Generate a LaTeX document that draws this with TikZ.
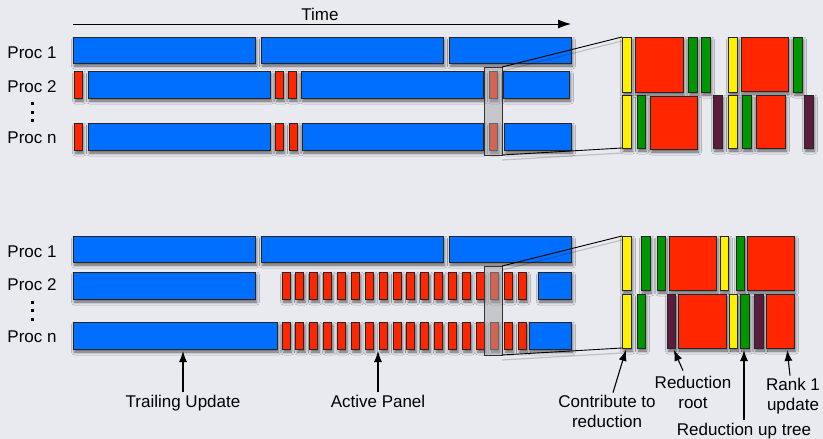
\documentclass[tikz,border=0pt]{standalone}
\usepackage{fontspec}
\setmainfont{Liberation Sans}
\usetikzlibrary{arrows.meta,shadows.blur}
\definecolor{bgc}{RGB}{233,234,240}
\definecolor{cblue}{RGB}{0,110,255}
\definecolor{cred}{RGB}{255,38,0}
\definecolor{cyel}{RGB}{255,240,0}
\definecolor{cgrn}{RGB}{0,150,0}
\definecolor{cpur}{RGB}{92,28,62}
\definecolor{cbox}{RGB}{165,165,168}
\newcommand{\blk}[6]{\node[#2, minimum width={(#5-#3)*1pt}, minimum height={(#6-#4)*1pt}, anchor=north west] (#1) at (#3,#4) {};}
\begin{document}
\begin{tikzpicture}[x=1pt,y=-1pt,font=\fontsize{17}{20}\selectfont,
  bx/.style={draw=black!85, line width=0.9pt, inner sep=0pt, outer sep=0pt,
    blur shadow={shadow xshift=1.5pt, shadow yshift=-3pt, shadow blur radius=3pt, shadow opacity=60}},
  bl/.style={bx, fill=cblue},
  rd/.style={bx, fill=cred},
  yl/.style={bx, fill=cyel},
  gr/.style={bx, fill=cgrn},
  pu/.style={bx, fill=cpur},
  zoombox/.style={draw=black!80, line width=0.9pt, fill=cbox, fill opacity=0.5, inner sep=0pt, outer sep=0pt},
  lbl/.style={inner sep=2pt, text height=12.5pt, text depth=3.5pt, align=center},
  lbltwo/.style={inner sep=2pt, align=center, anchor=north},
  arr/.style={-{Latex[length=11pt,width=8pt]}, line width=1.1pt},
  link/.style={line width=0.9pt, draw=black},
  linkshadow/.style={line width=1.2pt, draw=black, opacity=0.18},
  dot/.style={fill=black, inner sep=0pt, minimum size=3pt}]
\useasboundingbox[fill=bgc] (0,0) rectangle (823,439);

% ---------- Time axis ----------
\node[lbl] (time) at (320,15.5) {Time};
\coordinate (t0) at (73,24);
\coordinate (t1) at (571,24);
\draw[-{Latex[length=13pt,width=9pt]}, line width=1pt] (t0) -- (t1);

% ---------- Top section labels ----------
\node[lbl] (tl1) at (32,53.5) {Proc 1};
\node[lbl] (tl2) at (32,87.5) {Proc 2};
\node[lbl] (tln) at (32,138.5) {Proc n};
\node[dot] (td1) at (32,103) {};
\node[dot] (td2) at (32,112) {};
\node[dot] (td3) at (32,120) {};

% Top Proc 1
\blk{ta1}{bl}{73}{37}{255}{63}
\blk{ta2}{bl}{261}{37}{443}{63}
\blk{ta3}{bl}{449}{37}{571}{63}
% Top Proc 2
\blk{tb1}{rd}{74}{71}{82}{98}
\blk{tb2}{bl}{88}{71}{270}{98}
\blk{tb3}{rd}{275}{71}{283}{98}
\blk{tb4}{rd}{288}{71}{296}{98}
\blk{tb5}{bl}{301}{71}{483}{98}
\blk{tb6}{rd}{489}{71}{497}{98}
\blk{tb7}{bl}{503}{71}{569}{98}
% Top Proc n
\blk{tc1}{rd}{74}{123}{82}{150}
\blk{tc2}{bl}{88}{123}{270}{150}
\blk{tc3}{rd}{275}{123}{283}{150}
\blk{tc4}{rd}{289}{123}{297}{150}
\blk{tc5}{bl}{302}{123}{483}{150}
\blk{tc6}{rd}{489}{123}{497}{150}
\blk{tc7}{bl}{504}{123}{571}{150}
% zoom box
\blk{tbox}{zoombox}{484}{67}{502}{155}

% Top detail, upper row
\blk{du1}{yl}{622}{37}{631}{92}
\blk{du2}{rd}{635}{37}{683}{92}
\blk{du3}{gr}{688}{37}{697}{92}
\blk{du4}{gr}{701}{37}{710}{92}
\blk{du5}{yl}{728}{37}{737}{92}
\blk{du6}{rd}{741}{37}{788}{91}
\blk{du7}{gr}{793}{37}{802}{92}
% Top detail, lower row
\blk{dl1}{yl}{622}{95}{631}{148}
\blk{dl2}{gr}{637}{95}{645}{148}
\blk{dl3}{rd}{650}{96}{697}{149}
\blk{dl4}{pu}{713}{95}{722}{148}
\blk{dl5}{yl}{728}{95}{737}{148}
\blk{dl6}{gr}{742}{95}{751}{148}
\blk{dl7}{rd}{756}{95}{785}{148}
\blk{dl8}{pu}{804}{95}{813}{148}

% links top
\draw[linkshadow] ([yshift=-4pt]tbox.north east) -- ([yshift=-4pt]du1.north west);
\draw[linkshadow] ([yshift=-5pt]tbox.south east) -- ([yshift=-5pt]dl1.south west);
\draw[link] (tbox.north east) -- (du1.north west);
\draw[link] (tbox.south east) -- (dl1.south west);

% ---------- Bottom section labels ----------
\node[lbl] (bl1) at (32,252.5) {Proc 1};
\node[lbl] (bl2) at (32,285.5) {Proc 2};
\node[lbl] (bln) at (32,337.5) {Proc n};
\node[dot] (bd1) at (32,302) {};
\node[dot] (bd2) at (32,310) {};
\node[dot] (bd3) at (32,319) {};

% Bottom Proc 1
\blk{ba1}{bl}{73}{236}{255}{262}
\blk{ba2}{bl}{261}{236}{443}{262}
\blk{ba3}{bl}{449}{236}{571}{262}
% Bottom Proc 2
\blk{bb0}{bl}{73}{272}{255}{299}
\foreach \i in {0,...,17}{
  \pgfmathsetmacro{\xa}{282+\i*13.88}
  \pgfmathsetmacro{\xb}{\xa+8}
  \blk{bbr\i}{rd}{\xa}{272}{\xb}{299}
}
\blk{bb9}{bl}{538}{272}{571}{299}
% Bottom Proc n
\blk{bc0}{bl}{73}{322}{277}{349}
\foreach \i in {0,...,17}{
  \pgfmathsetmacro{\xa}{282+\i*13.88}
  \pgfmathsetmacro{\xb}{\xa+8}
  \blk{bcr\i}{rd}{\xa}{322}{\xb}{349}
}
\blk{bc9}{bl}{529}{322}{571}{349}
% zoom box
\blk{bbox}{zoombox}{484}{266}{502}{355}

% Bottom detail, upper row
\blk{eu1}{yl}{622}{236}{631}{290}
\blk{eu2}{gr}{641}{236}{650}{290}
\blk{eu3}{gr}{657}{236}{665}{290}
\blk{eu4}{rd}{669}{236}{716}{290}
\blk{eu5}{yl}{720}{236}{728}{290}
\blk{eu6}{gr}{736}{236}{744}{290}
\blk{eu7}{rd}{747}{236}{794}{290}
% Bottom detail, lower row
\blk{el1}{yl}{622}{294}{631}{348}
\blk{el2}{gr}{637}{294}{645}{348}
\blk{el3}{pu}{667}{294}{675}{348}
\blk{el4}{rd}{678}{294}{726}{348}
\blk{el5}{yl}{729}{294}{737}{348}
\blk{el6}{gr}{740}{294}{749}{348}
\blk{el7}{pu}{754}{294}{763}{348}
\blk{el8}{rd}{766}{294}{794}{348}

% links bottom
\draw[linkshadow] ([yshift=-4pt]bbox.north east) -- ([yshift=-4pt]eu1.north west);
\draw[linkshadow] ([yshift=-5pt]bbox.south east) -- ([yshift=-5pt]el1.south west);
\draw[link] (bbox.north east) -- (eu1.north west);
\draw[link] (bbox.south east) -- (el1.south west);

% ---------- Annotations ----------
\node[lbl] (tu) at (183,402.5) {Trailing Update};
\node[lbl] (ap) at (378,402.5) {Active Panel};
\node[lbltwo] (ctr) at (607,392.6) {Contribute to\\reduction};
\node[lbltwo] (rr) at (693,373.6) {Reduction\\root};
\node[lbl] (rut) at (744,430.5) {Reduction up tree};
\node[lbltwo] (rk) at (793,375.6) {Rank 1\\update};

\draw[arr, shorten >=2pt] (tu.north) -- (tu.north |- bc0.south);
\draw[arr, shorten >=2pt] (ap.north) -- (ap.north |- bcr7.south);
\draw[arr, shorten >=2pt] ([xshift=6pt]ctr.north) -- (el1.south);
\draw[arr, shorten >=2pt] ([xshift=-10pt,yshift=3pt]rr.north) -- ([xshift=2pt]el3.south);
\draw[arr, shorten >=2pt] (rut.north) -- (rut.north |- el6.south);
\draw[arr, shorten >=2pt] ([xshift=-3pt]rk.north) -- ([xshift=7pt]el8.south);
\end{tikzpicture}
\end{document}
